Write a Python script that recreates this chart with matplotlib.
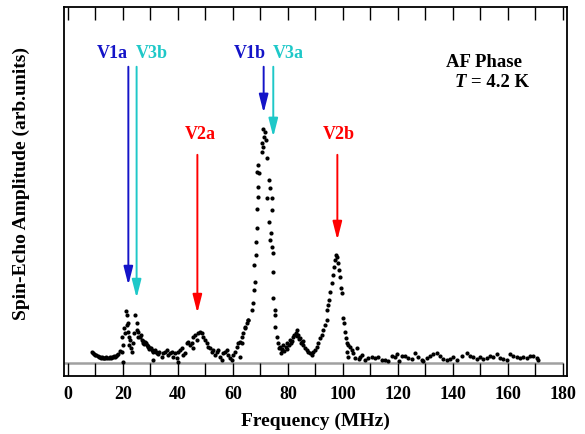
import matplotlib
matplotlib.use("Agg")
import matplotlib.pyplot as plt
from matplotlib.ticker import MultipleLocator

plt.rcParams['font.family'] = ['Liberation Serif', 'DejaVu Serif']
plt.rcParams['font.weight'] = 'bold'
plt.rcParams['axes.labelweight'] = 'bold'

# spin-echo spectrum (MHz, arb. units)
freq = [8.8, 9.2, 9.6, 10.0, 10.4, 10.8, 11.2, 11.6, 12.0, 12.4, 12.8, 13.2, 13.6, 14.0, 14.4,
        14.8, 15.2, 15.6, 16.0, 16.4, 16.8, 17.2, 17.6, 18.0, 18.4, 18.8,
        19.6, 20.0, 20.2, 19.7, 20.8, 20.5, 21.4, 21.8, 21.4, 21.3, 22.0, 22.1, 22.6, 22.3, 23.0,
        23.2, 23.6, 24.4, 25.0, 24.2, 25.1, 25.6, 25.4, 26.2, 26.5, 26.9, 27.2, 27.5, 27.8, 28.1,
        28.4, 28.7, 29.0, 29.3, 29.6, 29.9, 30.2, 30.5, 30.8, 31.1, 31.1, 31.4, 31.7, 32.0, 32.3,
        32.6, 33.2,
        34.1, 34.7, 35.3, 36.0, 36.5, 37.2, 37.8, 38.4, 39.0, 39.6, 40.2, 40.2, 40.8, 41.4, 42.0,
        42.6, 43.2, 43.8, 44.4, 45.0, 45.6, 45.6, 46.3, 46.9, 47.5, 48.1, 48.7, 49.3, 49.9, 50.5,
        51.1, 51.7, 52.3, 52.9, 53.5, 54.1, 54.7, 55.3, 56.0, 56.5, 57.2, 57.8, 58.4, 59.0, 59.6,
        60.2, 60.8, 61.4, 62.0, 62.6, 63.2, 63.8, 64.4, 65.1, 65.6,
        62.6, 63.3, 64.4, 65.5, 67.0, 67.3, 67.7, 68.1, 67.7, 68.4, 68.4, 68.8, 68.8, 69.2, 69.2,
        68.8, 69.5, 69.2, 70.6, 71.0, 70.6, 71.3, 71.0, 71.7, 72.1, 72.4, 73.2, 73.5, 72.4, 74.3,
        74.3, 73.2, 73.9, 73.5, 74.3, 74.6, 74.6, 74.6, 75.3, 75.3, 75.3, 76.0, 76.4, 76.8, 77.2,
        77.5, 77.9, 78.0, 78.3, 78.6, 79.2, 79.7, 79.8, 80.4, 80.8, 81.0, 81.6, 81.9, 82.2, 82.8,
        83.2, 83.5, 83.8, 84.0, 84.4, 84.8, 85.1, 85.4, 85.6, 86.3, 86.9, 87.5, 88.1, 88.7, 89.3,
        89.9, 90.5, 91.1, 91.7, 92.3, 92.9, 93.5, 94.1, 94.4, 94.7, 95.1, 95.3, 96.0, 96.3, 96.8,
        97.2, 97.5, 98.0, 98.1, 98.6, 99.0, 99.3, 99.6, 100.0, 100.4, 100.8, 101.1, 101.4, 101.4,
        102.0, 102.0, 102.6, 103.2, 103.8, 104.4, 105.1, 105.7, 106.3,
        106.9, 108.1, 109.3, 110.5, 111.7, 112.9, 114.1, 115.3, 116.5, 117.8, 119.0, 119.6, 120.5,
        121.4, 122.6, 123.8, 125.1, 126.3, 127.5, 128.7, 129.3, 130.5, 131.7, 132.9, 134.1, 135.3,
        136.5, 137.8, 139.0, 140.2, 141.4, 143.2, 145.0, 146.3, 147.5, 148.7, 149.9, 151.1, 152.3,
        153.5, 154.7, 156.0, 157.2, 158.4, 159.6, 160.8, 162.0, 163.2, 164.4, 165.6, 166.9, 168.1,
        169.3, 170.5, 171.1]
amp = [11, 10, 9, 8, 8, 7, 6, 6, 5, 6, 5, 5, 5, 6, 5,
       5, 6, 5, 6, 6, 7, 6, 7, 8, 9, 12,
       11, 1, 18, 26, 30, 35, 38, 40, 48, 52, 31, 26, 23, 18, 15,
       11, 20, 48, 40, 30, 33, 31, 26, 26, 28, 23, 22, 20, 19, 21,
       20, 18, 17, 16, 14, 15, 15, 13, 12, 11, 3, 12, 13, 11, 10,
       9, 11,
       6, 10, 11, 13, 8, 10, 11, 6, 10, 5, 1, 11, 13, 15, 8,
       10, 20, 21, 18, 20, 15, 26, 28, 23, 30, 31, 30, 26, 23, 20,
       16, 15, 11, 13, 8, 11, 13, 6, 3, 10, 11, 13, 8, 5, 3,
       8, 11, 16, 20, 21, 26, 30, 35, 40, 43,
       6, 20, 36, 43, 53, 60, 73, 81, 98, 108, 121, 135, 154, 166, 176,
       191, 190, 198, 211, 216, 220, 226, 234, 231, 223, 205, 183, 175, 165, 165,
       153, 141, 130, 123, 116, 110, 91, 65, 53, 48, 36, 26, 20, 15, 16,
       10, 13, 14, 18, 12, 16, 20, 14, 18, 23, 20, 22, 26, 28, 30,
       33, 27, 28, 24, 25, 20, 21, 22, 18, 15, 13, 11, 10, 8, 11,
       13, 16, 20, 25, 28, 33, 38, 43, 53, 58, 63, 71, 80, 88, 96,
       103, 108, 106, 100, 93, 86, 75, 70, 45, 40, 31, 25, 20, 11,
       18, 6, 16, 13, 10, 5, 15, 4, 6,
       8, 3, 5, 6, 5, 6, 3, 3, 2, 7, 6, 9, 2,
       7, 7, 5, 4, 10, 6, 3, 2, 5, 7, 9, 10, 7,
       4, 3, 4, 6, 3, 7, 10, 7, 6, 4, 6, 4, 5,
       7, 6, 9, 5, 4, 3, 9, 7, 6, 5, 6, 5, 7,
       7, 5, 3]

# line assignments: label, colour, arrow x, arrow tail, arrow tip, label x, label y
lines = ['V1a', 'V3b', 'V2a', 'V1b', 'V3a', 'V2b']
line_colors = ['#1414c8', '#1ec8c8', '#ff0000', '#1414c8', '#1ec8c8', '#ff0000']
arrow_x = [22.0, 25.0, 47.1, 71.2, 74.7, 98.0]
arrow_tail = [296, 296, 208, 296, 296, 208]
arrow_tip = [78, 65, 50, 250, 226, 123]
label_x = [16.3, 30.5, 48.3, 66.3, 80.3, 98.4]
label_y = [309, 309, 228, 309, 309, 228]

xlim = (-1.4, 181.5)
ylim = (-13, 356)

fig = plt.figure(figsize=(5.85, 4.34), dpi=100)
ax = fig.add_axes([0.1094, 0.1336, 0.8598, 0.851])

ax.hlines(0, xlim[0], 180, color='#a0a0a0', linewidth=1.8, zorder=1)
ax.plot(freq, amp, 'o', color='black', markersize=3.0, markeredgewidth=0, zorder=3)

for name, c, x, y0, y1, lx, ly in zip(lines, line_colors, arrow_x, arrow_tail, arrow_tip,
                                       label_x, label_y):
    ax.annotate('', xy=(x, y1), xytext=(x, y0),
                arrowprops=dict(arrowstyle='-|>,head_length=1.1,head_width=0.28',
                                color=c, lw=1.4, mutation_scale=10, shrinkA=0, shrinkB=0))
    ax.text(lx, ly, name, color=c, fontsize=13, fontweight='bold', ha='center', va='center')

ax.text(0.836, 0.85, 'AF Phase', transform=ax.transAxes, fontsize=13.5,
        fontweight='bold', ha='center', va='center')
ax.text(0.776, 0.794, 'T', transform=ax.transAxes, fontsize=13.5,
        fontweight='bold', style='italic', ha='left', va='center')
ax.text(0.809, 0.794, '= 4.2 K', transform=ax.transAxes, fontsize=13.5,
        fontweight='bold', ha='left', va='center')

ax.set_xlim(*xlim)
ax.set_ylim(*ylim)
ax.set_yticks([])
ax.xaxis.set_major_locator(MultipleLocator(20))
ax.xaxis.set_minor_locator(MultipleLocator(10))
ax.tick_params(axis='x', which='both', direction='in', top=True, bottom=True,
               length=9.4, width=1.0, labelsize=13, pad=7)
for s in ax.spines.values():
    s.set_linewidth(1.3)

ax.set_xlabel('Frequency (MHz)', fontsize=14, labelpad=7)
ax.set_ylabel('Spin-Echo Amplitude (arb.units)', fontsize=14)
ax.yaxis.set_label_coords(-0.068, 0.52)

fig.savefig('out.png', dpi=100)
